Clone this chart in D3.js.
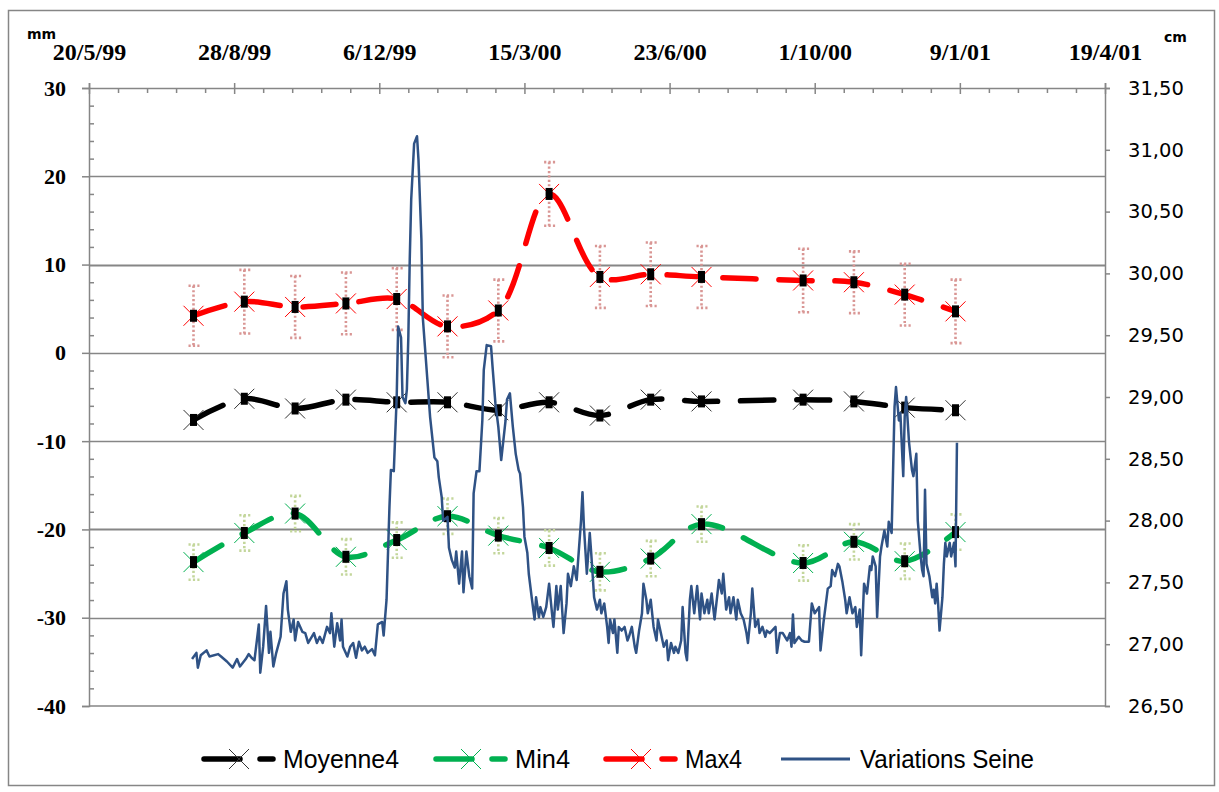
<!DOCTYPE html>
<html><head><meta charset="utf-8">
<script src="https://cdn.jsdelivr.net/npm/d3@7"></script>
<style>body{margin:0;background:#fff}</style>
</head><body><svg id="c" width="1219" height="792"></svg>
<script>
// ---------- data ----------
const axisStart = "1999-05-20";
const axisEnd = "2001-04-19";
const dateTickDays = [0, 100, 200, 300, 400, 500, 600, 700];
const dateMinorStep = 20;
const mmTicks = [-40, -30, -20, -10, 0, 10, 20, 30];
const mmGrid = [-30, -20, -10, 0, 10, 20];
const cmTicks = [26.5, 27, 27.5, 28, 28.5, 29, 29.5, 30, 30.5, 31, 31.5];

const measureDates = ["1999-07-31","1999-09-04","1999-10-09","1999-11-13","1999-12-18","2000-01-22","2000-02-26","2000-04-01","2000-05-06","2000-06-10","2000-07-15","2000-09-23","2000-10-28","2000-12-02","2001-01-06"];
const moyenne4 = [-7.6,-5.2,-6.3,-5.3,-5.6,-5.6,-6.5,-5.6,-7.1,-5.3,-5.5,-5.3,-5.5,-6.2,-6.5];
const moyenne4Err = [0.7,0.7,0.7,0.7,0.7,0.7,0.7,0.7,0.7,0.7,0.7,0.7,0.7,0.7,0.7];
const min4 = [-23.7,-20.4,-18.2,-23.1,-21.2,-18.5,-20.7,-22.1,-24.8,-23.3,-19.4,-23.8,-21.4,-23.6,-20.3];
const min4Err = [2.0,2.0,2.0,2.0,2.0,2.0,2.0,2.0,2.1,2.0,2.0,2.0,2.0,2.0,2.0];
const max4 = [4.2,5.8,5.2,5.6,6.1,3.0,4.8,18.0,8.6,8.9,8.6,8.2,8.0,6.6,4.7];
const max4Err = [3.4,3.6,3.5,3.5,3.5,3.5,3.5,3.6,3.5,3.6,3.5,3.6,3.5,3.5,3.6];

// Seine level (cm), day offsets counted from axisStart
const seineDay = [71,74,75,77,81,83,89,91,95,99,102,104,108,110,112,114,117,118,120,122,124,125,127,129,132,134,136,137,139,141,142,144,147,149,151,155,157,159,161,164,166,167,169,171,173,174,175,178,180,182,184,186,188,190,192,195,197,199,202,203,205,207,208,210,212,213,215,216,218,219,220,221,222,224,226,227,229,230,233,235,238,240,241,243,244,247,248,250,252,253,255,257,258,260,262,264,265,267,269,271,272,274,277,278,280,282,284,287,288,290,292,294,296,297,299,300,302,303,305,307,308,310,311,313,315,317,319,320,322,323,325,327,329,330,332,334,336,337,339,340,341,343,345,346,348,350,352,353,355,357,358,359,361,362,364,365,367,369,371,372,374,376,377,379,381,382,384,385,387,389,391,392,394,396,398,399,401,403,404,406,408,409,411,412,414,415,417,419,421,422,424,426,427,429,431,433,434,436,437,439,441,442,444,446,447,449,451,453,454,456,457,459,461,462,464,466,467,469,473,474,476,478,481,483,484,485,486,489,491,493,496,498,500,503,504,506,509,511,512,514,516,517,519,521,522,524,526,528,529,531,532,534,536,538,539,540,542,543,545,546,548,550,551,553,555,556,558,559,561,562,563,565,567,568,570,571,573,574,575,576,577,579,581,582,583,584,585,586,588,589,590,591,593,594,596,597,598];
const seineCm = [26.88,26.93,26.81,26.91,26.95,26.90,26.92,26.90,26.86,26.81,26.88,26.82,26.88,26.92,26.89,26.87,27.16,26.77,26.98,27.31,26.93,27.10,26.82,26.93,27.06,27.41,27.51,27.28,27.10,27.20,27.03,27.18,27.10,27.09,27.01,27.09,27.01,27.06,27.01,27.14,27.09,27.25,26.98,27.17,27.03,27.20,26.98,26.90,26.98,27.01,26.89,27.02,26.95,26.98,26.93,26.96,26.91,27.16,27.18,27.07,27.36,28.11,28.41,28.40,29.00,29.57,29.48,29.00,28.95,29.06,29.48,30.12,30.60,31.05,31.11,30.92,30.28,29.64,29.16,28.84,28.51,28.48,28.35,28.19,28.00,28.03,27.78,27.68,27.62,27.75,27.49,27.75,27.42,27.75,27.55,27.45,28.22,28.40,28.40,28.81,29.22,29.42,29.41,29.25,28.95,28.76,28.49,28.81,28.98,29.03,28.76,28.54,28.41,28.38,28.11,27.87,27.74,27.57,27.38,27.20,27.38,27.22,27.30,27.22,27.30,27.49,27.25,27.14,27.47,27.28,27.47,27.09,27.33,27.57,27.47,27.63,27.52,27.68,28.00,28.23,27.95,27.57,27.90,27.74,27.38,27.28,27.36,27.25,27.33,27.14,27.01,27.20,27.09,27.20,26.93,27.14,27.11,27.14,27.03,27.06,27.14,26.98,26.93,27.11,27.25,27.49,27.36,27.25,27.36,27.14,27.03,27.20,27.09,26.98,27.03,26.87,27.01,26.93,26.98,26.93,27.03,27.30,26.93,26.87,27.36,27.47,27.25,27.47,27.20,27.41,27.25,27.36,27.25,27.41,27.20,27.41,27.52,27.41,27.57,27.28,27.38,27.25,27.38,27.20,27.36,27.25,27.20,27.09,27.01,27.25,27.45,27.14,27.20,27.09,27.14,27.06,27.11,27.09,27.14,26.93,27.09,27.09,27.03,27.09,26.98,27.24,27.01,27.06,27.03,27.02,27.02,27.33,27.25,27.30,26.95,27.17,27.45,27.47,27.60,27.55,27.65,27.63,27.51,27.36,27.25,27.38,27.25,27.30,27.14,27.28,26.91,27.49,27.41,27.63,27.60,27.71,27.63,27.22,27.71,27.79,27.92,27.79,27.99,27.90,28.92,29.08,28.81,28.87,28.36,28.84,29.00,28.63,28.41,28.36,28.54,28.00,27.71,27.60,27.55,28.25,27.65,27.55,27.38,27.44,27.33,27.49,27.33,27.11,27.38,27.65,27.82,27.71,27.82,27.71,27.82,27.63,28.63];

const legendLabels = ["Moyenne4", "Min4", "Max4", "Variations Seine"];
const unitLeft = "mm", unitRight = "cm";

// ---------- layout ----------
const svg = d3.select("#c");
const P = {left: 89, right: 1105, top: 88, bottom: 706};
const AX = "#868686";
const parse = d3.utcParse("%Y-%m-%d");
const t0 = parse(axisStart), t1 = parse(axisEnd);
const x = d3.scaleUtc().domain([t0, t1]).range([P.left, P.right]);
const yL = d3.scaleLinear().domain([-40, 30]).range([P.bottom, P.top]);
const yR = d3.scaleLinear().domain([26.5, 31.5]).range([P.bottom, P.top]);
const fmtDate = d => `${d.getUTCDate()}/${d.getUTCMonth()+1}/${String(d.getUTCFullYear()).slice(2)}`;

// outer frame
svg.append("rect").attr("x", 8.5).attr("y", 10.5).attr("width", 1206).attr("height", 775)
  .attr("fill", "#fff").attr("stroke", AX).attr("stroke-width", 1.5);

// grid
svg.append("g").selectAll("line").data(mmGrid).join("line")
  .attr("x1", P.left).attr("x2", P.right)
  .attr("y1", d => Math.round(yL(d)) + 0.5).attr("y2", d => Math.round(yL(d)) + 0.5)
  .attr("stroke", AX).attr("stroke-width", d => (d === 10 || d === -20) ? 2 : 1.3);
svg.append("line").attr("x1", P.left).attr("x2", P.right).attr("y1", P.bottom).attr("y2", P.bottom)
  .attr("stroke", AX).attr("stroke-width", 1.5);

// top date axis
const majorDates = dateTickDays.map(d => d3.utcDay.offset(t0, d));
const minorDates = d3.range(0, 701, dateMinorStep).filter(d => d % 100 !== 0).map(d => d3.utcDay.offset(t0, d));
const gTop = svg.append("g").attr("transform", `translate(0,${P.top})`)
  .call(d3.axisTop(x).tickValues(majorDates).tickFormat(fmtDate).tickSize(5).tickPadding(23));
gTop.selectAll("line").attr("y2", -5).attr("y1", 6);
const gTopMinor = svg.append("g").attr("transform", `translate(0,${P.top})`)
  .call(d3.axisBottom(x).tickValues(minorDates).tickFormat("").tickSize(5));
gTopMinor.select(".domain").remove();

// left axis
const gL = svg.append("g").attr("transform", `translate(${P.left},0)`)
  .call(d3.axisLeft(yL).tickValues(mmTicks).tickFormat(d => String(d)).tickSize(7).tickPadding(16));
const minorMM = d3.range(-40, 31, 2).filter(v => v % 10 !== 0);
const gLm = svg.append("g").attr("transform", `translate(${P.left},0)`)
  .call(d3.axisRight(yL).tickValues(minorMM).tickFormat("").tickSize(5));
gLm.select(".domain").remove();

// right axis
const gR = svg.append("g").attr("transform", `translate(${P.right},0)`)
  .call(d3.axisRight(yR).tickValues(cmTicks).tickFormat(d => d.toFixed(2).replace(".", ",")).tickSize(5).tickPadding(18));

[gTop, gTopMinor, gL, gLm, gR].forEach(g => {
  g.selectAll(".domain").attr("stroke", AX).attr("stroke-width", 1.5);
  g.selectAll(".tick line").attr("stroke", AX).attr("stroke-width", 1.5);
});
gTop.selectAll("text").attr("font-family", "'Liberation Serif', serif").attr("font-weight", "bold")
  .attr("font-size", 24).attr("fill", "#000");
gL.selectAll("text").attr("font-family", "'Liberation Serif', serif").attr("font-weight", "bold")
  .attr("font-size", 22).attr("fill", "#000");
gR.selectAll("text").attr("font-family", "'DejaVu Sans', sans-serif")
  .attr("font-size", 19.5).attr("fill", "#000");

svg.append("text").attr("x", 27).attr("y", 39).text(unitLeft)
  .attr("font-family", "'DejaVu Sans', sans-serif").attr("font-weight", "bold").attr("font-size", 14);
svg.append("text").attr("x", 1164).attr("y", 42).text(unitRight)
  .attr("font-family", "'DejaVu Sans', sans-serif").attr("font-weight", "bold").attr("font-size", 14);

// ---------- series ----------
const series = [
  {name: legendLabels[0], vals: moyenne4, err: moyenne4Err, color: "#000000", xcol: "#333", errStyle: "solid"},
  {name: legendLabels[1], vals: min4, err: min4Err, color: "#00b050", xcol: "#00b050", errColor: "#c3d69b", errStyle: "dot"},
  {name: legendLabels[2], vals: max4, err: max4Err, color: "#ff0000", xcol: "#ff0000", errColor: "#d99694", errStyle: "dot"}
];
series.forEach(s => { s.pts = measureDates.map((d, i) => ({date: parse(d), v: s.vals[i], e: s.err[i]})); });

const gS = svg.append("g");
const line = d3.line().x(d => x(d.date)).y(d => yL(d.v)).curve(d3.curveCatmullRom.alpha(0.5));
const DASH = "33,23";

// dotted error bars (drawn below lines)
series.filter(s => s.errStyle === "dot").forEach(s => {
  const g = gS.append("g").attr("stroke", s.errColor).attr("stroke-width", 2.6).attr("stroke-dasharray", "2.2,2.2");
  g.selectAll("line.v").data(s.pts).join("line").attr("class", "v")
    .attr("x1", d => x(d.date)).attr("x2", d => x(d.date))
    .attr("y1", d => yL(d.v + d.e)).attr("y2", d => yL(d.v - d.e));
  ["top", "bot"].forEach(k => {
    g.selectAll("line." + k).data(s.pts).join("line").attr("class", k)
      .attr("x1", d => x(d.date) - 5).attr("x2", d => x(d.date) + 6)
      .attr("y1", d => yL(k === "top" ? d.v + d.e : d.v - d.e))
      .attr("y2", d => yL(k === "top" ? d.v + d.e : d.v - d.e));
  });
});

series.forEach(s => {
  gS.append("path").datum(s.pts).attr("d", line).attr("fill", "none")
    .attr("stroke", s.color).attr("stroke-width", 5.5).attr("stroke-linecap", "round")
    .attr("stroke-dasharray", DASH);
});

// markers: X + black I-beam
series.forEach(s => {
  const g = gS.append("g");
  g.selectAll("path").data(s.pts).join("path")
    .attr("d", d => { const cx = x(d.date), cy = yL(d.v), r = 10;
      return `M${cx-r},${cy-r}L${cx+r},${cy+r}M${cx-r},${cy+r}L${cx+r},${cy-r}`; })
    .attr("stroke", s.xcol).attr("stroke-width", 1).attr("fill", "none");
  g.selectAll("rect").data(s.pts).join("rect")
    .attr("x", d => x(d.date) - 3.5).attr("y", d => yL(d.v) - 6).attr("width", 7).attr("height", 12)
    .attr("fill", "#000");
});

// Seine (secondary axis), drawn on top
const seine = seineDay.map((d, i) => ({date: d3.utcDay.offset(t0, d), v: seineCm[i]}));
svg.append("path").datum(seine)
  .attr("d", d3.line().x(d => x(d.date)).y(d => yR(d.v)))
  .attr("fill", "none").attr("stroke", "#2f5285").attr("stroke-width", 2.5).attr("stroke-linejoin", "round");

// ---------- legend ----------
const legend = [
  {label: legendLabels[0], color: "#000", xcol: "#333", x0: 204, dashed: true, tw: 116},
  {label: legendLabels[1], color: "#00b050", xcol: "#00b050", x0: 436, dashed: true, tw: 55},
  {label: legendLabels[2], color: "#ff0000", xcol: "#ff0000", x0: 606, dashed: true, tw: 57},
  {label: legendLabels[3], color: "#2f5285", x0: 781, dashed: false, tw: 174}
];
const LY = 759;
const gLeg = svg.append("g");
legend.forEach(l => {
  const ln = gLeg.append("line").attr("x1", l.x0).attr("x2", l.x0 + 69).attr("y1", LY).attr("y2", LY)
    .attr("stroke", l.color);
  if (l.dashed) {
    ln.attr("stroke-width", 5.5).attr("stroke-dasharray", "36,20").attr("stroke-linecap", "round");
    const cx = l.x0 + 35, r = 10;
    gLeg.append("path").attr("d", `M${cx-r},${LY-r}L${cx+r},${LY+r}M${cx-r},${LY+r}L${cx+r},${LY-r}`)
      .attr("stroke", l.xcol).attr("stroke-width", 1).attr("fill", "none");
  } else {
    ln.attr("stroke-width", 3);
  }
  gLeg.append("text").attr("x", l.x0 + 79).attr("y", LY + 9).text(l.label)
    .attr("font-family", "'Liberation Sans Narrow', 'Liberation Sans', sans-serif").attr("font-size", 25)
    .attr("textLength", l.tw).attr("lengthAdjust", "spacingAndGlyphs");
});
</script></body></html>
